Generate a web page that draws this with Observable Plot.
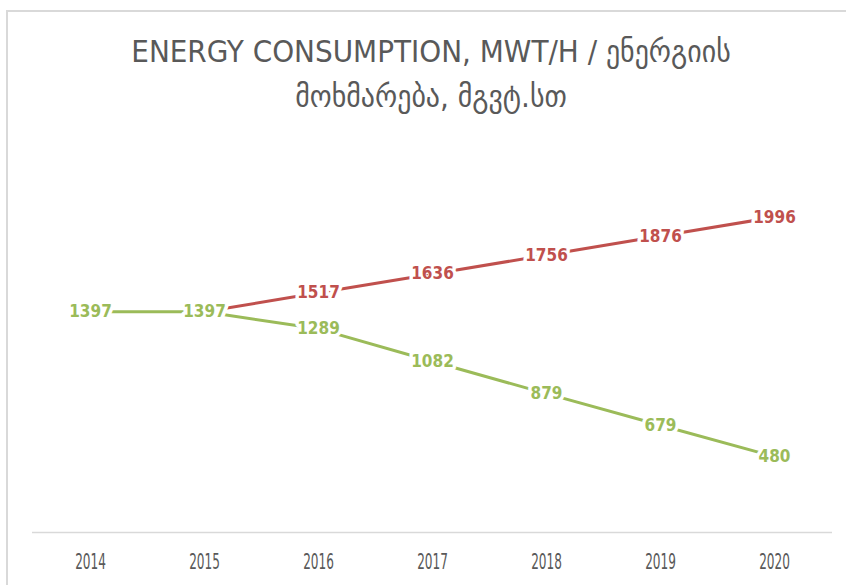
<!DOCTYPE html>
<html>
<head>
<meta charset="utf-8">
<script src="https://cdn.jsdelivr.net/npm/d3@7"></script>
<script src="https://cdn.jsdelivr.net/npm/@observablehq/plot@0.6"></script>
<style>
  html, body { margin: 0; padding: 0; background: #fff; overflow: hidden; }
  #wrap { position: relative; width: 846px; height: 585px; overflow: hidden; }
  #border { position: absolute; left: 6px; top: 10px; width: 840px; height: 575px; border-top: 2px solid #d9d9d9; border-left: 2px solid #d9d9d9; box-sizing: border-box; }
  #title { position: absolute; left: 0; width: 862px; top: 29px; text-align: center; font-family: "DejaVu Sans Condensed", "DejaVu Sans", sans-serif; font-size: 31px; line-height: 45px; color: #595959; }
  #chart { position: absolute; left: 0; top: 0; }
</style>
</head>
<body>
<div id="wrap">
  <div id="border"></div>
  <div id="chart"></div>
  <div id="title">ENERGY CONSUMPTION, MWT/H / ენერგიის<br>მოხმარება, მგვტ.სთ</div>
</div>
<script>
const years = ["2014", "2015", "2016", "2017", "2018", "2019", "2020"];
const greenValues = [1397, 1397, 1289, 1082, 879, 679, 480];
const redValues = [null, 1397, 1517, 1636, 1756, 1876, 1996];

const green = years.map((y, i) => ({year: y, value: greenValues[i]}));
const red = years.map((y, i) => ({year: y, value: redValues[i]})).filter(d => d.value != null);

const RED = "#c0504d";
const GREEN = "#9bbb59";
const font = '"DejaVu Sans Condensed", "DejaVu Sans", sans-serif';

const chart = Plot.plot({
  width: 846,
  height: 585,
  marginLeft: 32,
  marginRight: 14,
  marginTop: 137,
  marginBottom: 53,
  style: {fontFamily: font, background: "transparent"},
  x: {type: "point", domain: years, padding: 0.5, label: null},
  y: {domain: [0, 2500], axis: null},
  marks: [
    Plot.ruleY([0], {stroke: "#d9d9d9", strokeWidth: 1.5}),
    Plot.axisX({tickSize: 0, tickPadding: 22, fontSize: 21, fill: "#595959", label: null}),
    Plot.line(red, {x: "year", y: "value", stroke: RED, strokeWidth: 3}),
    Plot.line(green, {x: "year", y: "value", stroke: GREEN, strokeWidth: 3}),
    Plot.text(red, {x: "year", y: "value", text: d => String(d.value), fill: RED, stroke: "white", strokeWidth: 7, fontSize: 17, fontWeight: "bold"}),
    Plot.text(green, {x: "year", y: "value", text: d => String(d.value), fill: GREEN, stroke: "white", strokeWidth: 7, fontSize: 17, fontWeight: "bold"})
  ]
});
document.getElementById("chart").appendChild(chart);
chart.querySelectorAll('g[aria-label="x-axis tick label"] text').forEach(t => {
  const tr = t.getAttribute("transform") || "";
  t.setAttribute("transform", (tr + " scale(0.64,1)").trim());
});
</script>
</body>
</html>
